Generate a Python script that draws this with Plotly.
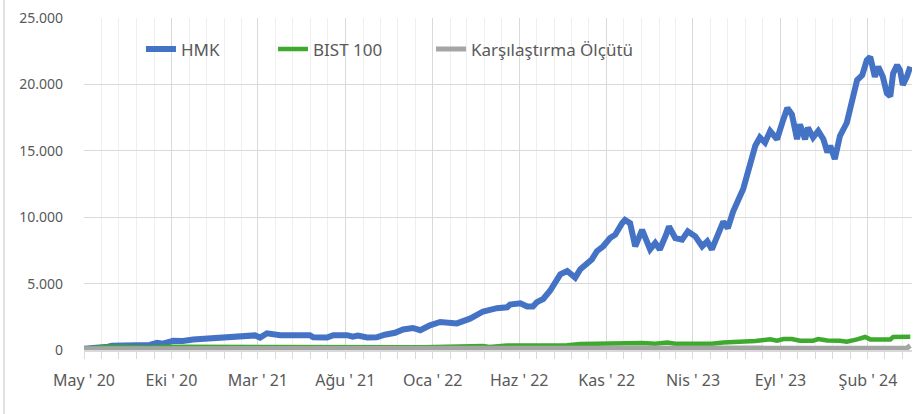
import plotly.graph_objects as go

# HMK fund value
hmk_dates = [
    "2020-05-01", "2020-05-29", "2020-06-12", "2020-06-19", "2020-08-24", "2020-09-06",
    "2020-09-16", "2020-10-04", "2020-10-21", "2020-11-08", "2020-12-02", "2021-01-06",
    "2021-02-03", "2021-02-24", "2021-03-05", "2021-03-17", "2021-04-09", "2021-05-31",
    "2021-06-06", "2021-06-18", "2021-06-30", "2021-07-11", "2021-08-04", "2021-08-14",
    "2021-08-23", "2021-09-08", "2021-09-25", "2021-10-09", "2021-10-27", "2021-11-10",
    "2021-11-27", "2021-12-10", "2021-12-27", "2022-01-14", "2022-01-31", "2022-02-12",
    "2022-03-07", "2022-03-30", "2022-04-23", "2022-05-11", "2022-05-16", "2022-06-03",
    "2022-06-15", "2022-06-25", "2022-07-02", "2022-07-13", "2022-07-25", "2022-08-03",
    "2022-08-12", "2022-08-24", "2022-09-07", "2022-09-16", "2022-09-28", "2022-10-06",
    "2022-10-15", "2022-10-26", "2022-11-07", "2022-11-16", "2022-11-28", "2022-12-03",
    "2022-12-12", "2022-12-21", "2023-01-02", "2023-01-11", "2023-01-16", "2023-01-25",
    "2023-02-02", "2023-02-13", "2023-02-18", "2023-03-01", "2023-03-13", "2023-03-23",
    "2023-04-05", "2023-04-17", "2023-04-26", "2023-05-04", "2023-05-13", "2023-05-24",
    "2023-06-01", "2023-06-10", "2023-06-28", "2023-07-10", "2023-07-19", "2023-07-27",
    "2023-08-05", "2023-08-14", "2023-08-26", "2023-09-06", "2023-09-13", "2023-09-21",
    "2023-09-30", "2023-10-05", "2023-10-14", "2023-10-19", "2023-10-28", "2023-11-06",
    "2023-11-15", "2023-11-22", "2023-11-27", "2023-12-05", "2023-12-14", "2023-12-26",
    "2024-01-04", "2024-01-13", "2024-01-22", "2024-01-30", "2024-02-05", "2024-02-13",
    "2024-02-19", "2024-02-27", "2024-03-05", "2024-03-11", "2024-03-16", "2024-03-23",
    "2024-03-28", "2024-04-02", "2024-04-09", "2024-04-15",
]
hmk_values = [
    100, 150, 250, 330, 380, 540,
    480, 690, 680, 790, 870, 940,
    1060, 1100, 940, 1260, 1120, 1120,
    960, 1000, 940, 1120, 1120, 1000,
    1080, 950, 960, 1150, 1300, 1550,
    1660, 1490, 1860, 2110, 2030, 2000,
    2360, 2900, 3150, 3220, 3420, 3520,
    3270, 3270, 3600, 3840, 4460, 5080,
    5700, 5950, 5450, 6080, 6570, 6820,
    7440, 7810, 8430, 8680, 9550, 9800,
    9550, 7810, 9050, 8180, 7570, 8060,
    7570, 8680, 9300, 8430, 8310, 8930,
    8560, 7810, 8180, 7570, 8560, 9670,
    9170, 10400, 12150, 14140, 15380, 16000,
    15620, 16490, 15870, 17360, 18230, 17730,
    15870, 16990, 15870, 16740, 16000, 16490,
    15870, 14880, 15380, 14380, 16120, 17110,
    18600, 20330, 20700, 21820, 22070, 20580,
    21330, 20580, 19340, 19100, 20830, 21450,
    21080, 19960, 20580, 21330,
]

# BIST 100
bist_dates = [
    "2020-05-01", "2020-06-12", "2020-07-10", "2020-08-24", "2020-09-20", "2021-05-31",
    "2021-06-20", "2021-12-15", "2022-03-30", "2022-04-10", "2022-05-11", "2022-07-02",
    "2022-08-24", "2022-09-16", "2022-10-26", "2022-11-28", "2022-12-12", "2023-01-02",
    "2023-01-25", "2023-02-15", "2023-03-01", "2023-05-04", "2023-05-24", "2023-06-10",
    "2023-06-28", "2023-07-19", "2023-08-14", "2023-08-26", "2023-09-06", "2023-09-21",
    "2023-10-05", "2023-10-28", "2023-11-06", "2023-11-22", "2023-12-14", "2023-12-26",
    "2024-01-13", "2024-01-27", "2024-02-05", "2024-03-11", "2024-03-16", "2024-04-15",
]
bist_values = [
    100, 250, 230, 180, 240, 240,
    180, 200, 300, 220, 330, 330,
    350, 460, 480, 560, 570, 520,
    480, 560, 470, 470, 570, 580,
    660, 680, 800, 700, 820, 830,
    700, 700, 820, 720, 700, 620,
    800, 980, 800, 800, 980, 990,
]

# Karşılaştırma Ölçütü (benchmark)
bench_dates = ["2020-05-01", "2021-05-01", "2022-05-01", "2023-05-01", "2024-03-20", "2024-04-09", "2024-04-15"]
bench_values = [100, 105, 110, 120, 130, 150, 330]

tick_dates = ["2020-05-01", "2020-10-01", "2021-03-01", "2021-08-01", "2022-01-01",
              "2022-06-01", "2022-11-01", "2023-04-01", "2023-09-01", "2024-02-01"]
tick_labels = ["May ' 20", "Eki ' 20", "Mar ' 21", "Ağu ' 21", "Oca ' 22",
               "Haz ' 22", "Kas ' 22", "Nis ' 23", "Eyl ' 23", "Şub ' 24"]

y_ticks = [0, 5000, 10000, 15000, 20000, 25000]
y_labels = ["0", "5.000", "10.000", "15.000", "20.000", "25.000"]

fig = go.Figure()
fig.add_trace(go.Scatter(x=hmk_dates, y=hmk_values, name="HMK", mode="lines",
                         line=dict(color="#4472C4", width=6), legend="legend"))
fig.add_trace(go.Scatter(x=bist_dates, y=bist_values, name="BIST 100", mode="lines",
                         line=dict(color="#3DAA2E", width=4.5), legend="legend2"))
fig.add_trace(go.Scatter(x=bench_dates, y=bench_values, name="Karşılaştırma Ölçütü", mode="lines",
                         line=dict(color="#A5A5A5", width=5), legend="legend3"))

fig.update_xaxes(
    type="date",
    range=["2020-05-01", "2024-04-18"],
    tickmode="array", tickvals=tick_dates, ticktext=tick_labels,
    showgrid=True, gridcolor="#D9D9D9", gridwidth=1.3,
    ticks="outside", ticklen=7, tickcolor="#D9D9D9",
    showline=True, linecolor="#D9D9D9", linewidth=1.5,
    minor=dict(dtick="M1", tick0="2020-05-01", showgrid=True, gridcolor="#EFEFEF",
               ticks="outside", ticklen=7, tickcolor="#D9D9D9"),
    tickfont=dict(family="Noto Sans", size=16, color="#595959"),
    ticklabelstandoff=8,
)
fig.update_yaxes(
    range=[0, 25000], tickmode="array", tickvals=y_ticks, ticktext=y_labels,
    showgrid=True, gridcolor="#D9D9D9", gridwidth=1.3, zeroline=False,
    tickfont=dict(family="Noto Sans", size=14, color="#595959"),
    ticklabelstandoff=20,
)

# thin frame line at the left edge of the chart area
fig.add_shape(type="line", xref="paper", yref="paper", x0=-0.0966, x1=-0.0966, y0=-0.3, y1=1.1,
              line=dict(color="#D9D9D9", width=1.5))

leg_font = dict(family="Noto Sans", size=17, color="#595959")
leg_common = dict(orientation="h", y=0.905, xanchor="left", yanchor="middle",
                  bgcolor="rgba(0,0,0,0)", font=leg_font)

fig.update_layout(
    width=920, height=414,
    margin=dict(l=84, r=8, t=14, b=64),
    paper_bgcolor="white", plot_bgcolor="white",
    showlegend=True,
    legend=dict(x=0.0688, **leg_common),
    legend2=dict(x=0.2283, **leg_common),
    legend3=dict(x=0.4191, **leg_common),
)

fig.write_html("out.html", config={"displayModeBar": False},
               post_script="document.body.style.margin='0';")
